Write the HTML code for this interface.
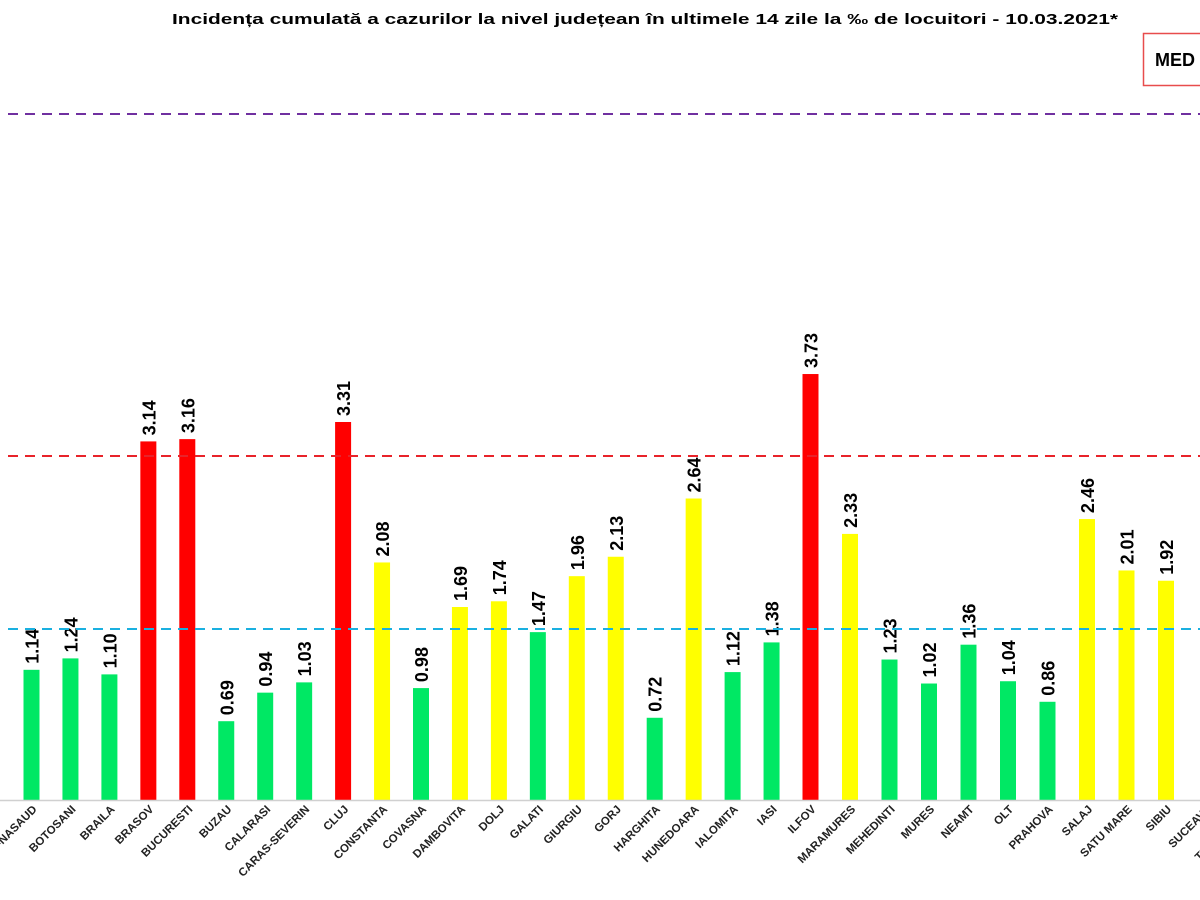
<!DOCTYPE html>
<html><head><meta charset="utf-8"><style>html,body{margin:0;padding:0;background:#fff;}svg{display:block;}</style></head>
<body>
<svg width="1200" height="900" xmlns="http://www.w3.org/2000/svg" font-family="Liberation Sans, sans-serif">
<rect width="1200" height="900" fill="#fff"/>
<text x="172" y="24" font-size="15" font-weight="bold" textLength="946" lengthAdjust="spacingAndGlyphs">Incidența cumulată a cazurilor la nivel județean în ultimele 14 zile la ‰ de locuitori - 10.03.2021*</text>
<rect x="1143.5" y="33.5" width="70" height="52" fill="#fff" stroke="#e84c4c" stroke-width="1.5"/>
<text x="1155" y="66" font-size="18" font-weight="bold">MED</text>
<line x1="8" y1="114" x2="1200" y2="114" stroke="#7030a0" stroke-width="2" stroke-dasharray="10,7"/>
<g id="bars"></g>
<line x1="0" y1="800.5" x2="1200" y2="800.5" stroke="#d0d0d0" stroke-width="1.5"/>
<line x1="8" y1="456" x2="1200" y2="456" stroke="#e8232a" stroke-width="2" stroke-dasharray="10,7"/>
<line x1="8" y1="629" x2="1200" y2="629" stroke="#1ab0e0" stroke-width="2" stroke-dasharray="10,7"/>
<g id="lab"></g>
<script>
var d=[["BISTRITA-NASAUD",1.14],["BOTOSANI",1.24],["BRAILA",1.10],["BRASOV",3.14],["BUCURESTI",3.16],["BUZAU",0.69],["CALARASI",0.94],["CARAS-SEVERIN",1.03],["CLUJ",3.31],["CONSTANTA",2.08],["COVASNA",0.98],["DAMBOVITA",1.69],["DOLJ",1.74],["GALATI",1.47],["GIURGIU",1.96],["GORJ",2.13],["HARGHITA",0.72],["HUNEDOARA",2.64],["IALOMITA",1.12],["IASI",1.38],["ILFOV",3.73],["MARAMURES",2.33],["MEHEDINTI",1.23],["MURES",1.02],["NEAMT",1.36],["OLT",1.04],["PRAHOVA",0.86],["SALAJ",2.46],["SATU MARE",2.01],["SIBIU",1.92],["SUCEAVA",1.5],["TELEORMAN",1.5]];
var ns="http://www.w3.org/2000/svg",b=document.getElementById("bars"),l=document.getElementById("lab");
function el(t,a,p,tx){var e=document.createElementNS(ns,t);for(var k in a)e.setAttribute(k,a[k]);if(tx)e.textContent=tx;p.appendChild(e);return e;}
d.forEach(function(r,i){
 var x=i<=20?31.5+38.95*i:810.5+39.5*(i-20);
 var v=r[1],h=v*114.2,y=800-h;
 var c=v>=3?"#ff0000":(v>=1.5?"#ffff00":"#00e864");
 if(i<30){el("rect",{x:x-8,y:y,width:16,height:h,fill:c},b);
 el("text",{x:0,y:0,transform:"translate("+(x+7)+","+(y-6)+") rotate(-90)","font-size":"18","font-weight":"bold",fill:"#000"},b,v.toFixed(2));}
 el("text",{x:0,y:0,transform:"translate("+(x+6)+",810) rotate(-45)","text-anchor":"end","font-size":"11.5","font-weight":"bold",fill:"#222"},l,r[0]);
});
</script>
</svg>
</body></html>
